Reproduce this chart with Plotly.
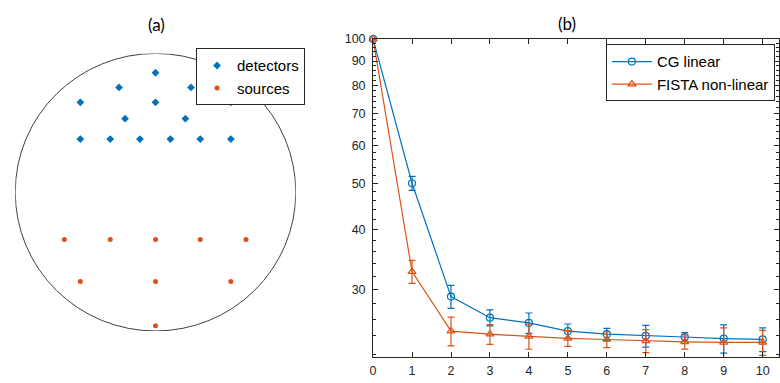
import numpy as np
import plotly.graph_objects as go

# ---------- data ----------
# panel (a): positions in unit-circle coordinates
det_x = [0.0, -0.26, 0.253, -0.536, 0.0, 0.537, -0.217, 0.213, -0.536, -0.323, -0.111, 0.106, 0.319, 0.537]
det_y = [0.861, 0.755, 0.755, 0.648, 0.648, 0.648, 0.53, 0.53, 0.383, 0.383, 0.383, 0.383, 0.383, 0.383]
src_x = [-0.65, -0.323, 0.0, 0.319, 0.645, -0.536, 0.0, 0.537, 0.0]
src_y = [-0.34, -0.34, -0.34, -0.34, -0.34, -0.643, -0.643, -0.643, -0.962]

# panel (b)
iters = [0, 1, 2, 3, 4, 5, 6, 7, 8, 9, 10]
cg = [100, 50.0, 29.0, 26.2, 25.55, 24.57, 24.2, 24.0, 23.88, 23.7, 23.6]
cg_err = [0, 1.7, 1.6, 1.0, 1.25, 0.85, 0.7, 1.25, 0.5, 1.6, 1.35]
fista = [100, 32.7, 24.57, 24.2, 23.96, 23.73, 23.59, 23.44, 23.33, 23.26, 23.26]
fista_err = [0, 1.8, 1.7, 1.15, 1.45, 0.9, 0.9, 1.3, 0.8, 1.7, 1.4]
ytick_vals = [30, 40, 50, 60, 70, 80, 90, 100]
yminor_vals = [v for v in range(22, 100, 2) if v % 10 != 0]
xtick_vals = list(range(0, 11))

BLUE = "#0072BD"
ORANGE = "#D95319"
AX = "#262626"
FONT = "Liberation Sans, Arial, sans-serif"

fig = go.Figure()

# panel (a)
fig.add_trace(go.Scatter(x=det_x, y=det_y, mode="markers", name="detectors",
                         marker=dict(symbol="diamond", size=6, color=BLUE),
                         xaxis="x", yaxis="y", legend="legend"))
fig.add_trace(go.Scatter(x=src_x, y=src_y, mode="markers", name="sources",
                         marker=dict(symbol="circle", size=5, color=ORANGE),
                         xaxis="x", yaxis="y", legend="legend"))
fig.add_shape(type="circle", xref="x", yref="y", x0=-1, y0=-1, x1=1, y1=1,
              line=dict(color="#404040", width=1), layer="below")

# panel (b)
fig.add_trace(go.Scatter(x=iters, y=cg, mode="lines+markers", name="CG linear",
                         line=dict(color=BLUE, width=1.2),
                         marker=dict(symbol="circle-open", size=7, color=BLUE, line=dict(width=1.2)),
                         error_y=dict(type="data", array=cg_err, color=BLUE, thickness=1.2, width=3.5),
                         cliponaxis=False, xaxis="x2", yaxis="y2", legend="legend2"))
fig.add_trace(go.Scatter(x=iters, y=fista, mode="lines+markers", name="FISTA non-linear",
                         line=dict(color=ORANGE, width=1.2),
                         marker=dict(symbol="triangle-up-open", size=7, color=ORANGE, line=dict(width=1.2)),
                         error_y=dict(type="data", array=fista_err, color=ORANGE, thickness=1.2, width=3.5),
                         cliponaxis=False, xaxis="x2", yaxis="y2", legend="legend2"))

W, H = 780, 383
fig.update_layout(
    width=W, height=H, margin=dict(l=0, r=0, t=0, b=0),
    paper_bgcolor="white", plot_bgcolor="white",
    font=dict(family=FONT, color=AX, size=12.5),
    xaxis=dict(domain=[12.3 / W, 294.3 / W], range=[-1, 1], visible=False),
    yaxis=dict(domain=[1 - 330 / H, 1 - 47.3 / H], range=[-1, 1], visible=False),
    xaxis2=dict(domain=[372 / W, 1.0], range=[0, 10.42], anchor="y2",
                tickvals=xtick_vals, ticks="inside", ticklen=5, tickcolor=AX,
                showline=True, linecolor=AX, linewidth=1, mirror="ticks",
                showgrid=False, zeroline=False, tickfont=dict(size=12.5, color=AX),
                ticklabelstandoff=2),
    yaxis2=dict(domain=[1 - 356.7 / H, 1 - 32.7 / H], type="log",
                range=[np.log10(21.67), 2], anchor="x2",
                tickvals=ytick_vals, ticks="inside", ticklen=5, tickcolor=AX,
                minor=dict(tickvals=yminor_vals, ticks="inside", ticklen=3, tickcolor=AX),
                showline=True, linecolor=AX, linewidth=1, mirror="ticks",
                showgrid=False, zeroline=False, tickfont=dict(size=12.5, color=AX),
                ticklabelstandoff=4),
    legend=dict(x=194 / W, y=1 - 42 / H, xanchor="left", yanchor="top",
                bordercolor=AX, borderwidth=1, bgcolor="white",
                font=dict(size=15, color="black", family=FONT),
                itemwidth=30, tracegroupgap=0),
    legend2=dict(x=606 / W, y=1 - 38 / H, xanchor="left", yanchor="top",
                 bordercolor=AX, borderwidth=1, bgcolor="white",
                 font=dict(size=15, color="black", family=FONT),
                 itemwidth=40, tracegroupgap=0),
    annotations=[
        dict(text="(a)", x=154 / W, y=1 - 18 / H, xref="paper", yref="paper",
             xanchor="center", yanchor="middle",
             showarrow=False, font=dict(size=17, color="black", family="Lato, sans-serif")),
        dict(text="(b)", x=567 / W, y=1 - 17 / H, xref="paper", yref="paper",
             xanchor="center", yanchor="middle",
             showarrow=False, font=dict(size=17, color="black", family="Lato, sans-serif")),
    ],
)

fig.write_html("out.html")
